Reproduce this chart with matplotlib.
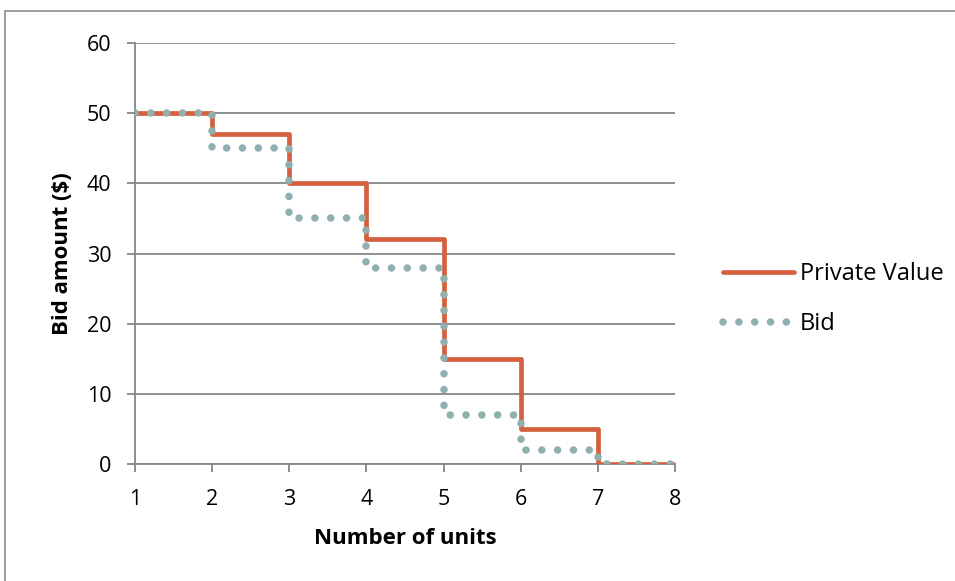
import numpy as np
import matplotlib as mpl
mpl.use('Agg')
import matplotlib.pyplot as plt
from matplotlib.patches import Rectangle

# units on the x axis and the value of each unit (last point closes the step)
units = [1, 2, 3, 4, 5, 6, 7, 8]
private_value = [50, 47, 40, 32, 15, 5, 0, 0]
bid = [50, 45, 35, 28, 7, 2, 0, 0]

plt.rcParams['font.family'] = ['Open Sans', 'DejaVu Sans']

W, H = 955, 581
fig = plt.figure(figsize=(W / 100, H / 100), dpi=100)
ax = fig.add_axes([135 / W, 1 - 464 / H, 540 / W, 421 / H])

grid_col = '#868686'
orange = '#D4603F'
teal = '#8FB0AE'

# chart frame
fig.patches.append(Rectangle((5 / W, -0.1), 1.2, 1 - 11 / H + 0.1,
                             transform=fig.transFigure, fill=False,
                             edgecolor='#8c8c8c', linewidth=1.2))

ax.plot(units, private_value, drawstyle='steps-post', color=orange,
        linewidth=3.4, solid_joinstyle='round', solid_capstyle='round',
        label='Private Value', zorder=3)
ax.plot(units, bid, drawstyle='steps-post', color=teal, linewidth=5.4,
        linestyle=(0, (0.01, 2.1)), dash_capstyle='round', label='Bid', zorder=4)

ax.set_xlim(1, 8)
ax.set_ylim(0, 60)
ax.set_xticks(units)
ax.set_yticks(range(0, 61, 10))
ax.yaxis.grid(True, color=grid_col, linewidth=1.3)
ax.set_axisbelow(True)

for s in ['top', 'right']:
    ax.spines[s].set_visible(False)
for s in ['left', 'bottom']:
    ax.spines[s].set_color(grid_col)
    ax.spines[s].set_linewidth(1.3)
ax.tick_params(axis='both', direction='out', length=6, width=1.3,
               color=grid_col, labelsize=15.5)
ax.tick_params(axis='x', pad=12)
ax.tick_params(axis='y', pad=11)

ax.set_xlabel('Number of units', fontsize=16, fontweight='bold', labelpad=13)
ax.set_ylabel('Bid amount ($)', fontsize=16, fontweight='bold', labelpad=10)

leg = ax.legend(loc='center left', bbox_to_anchor=(1.05, 0.392), frameon=False,
                fontsize=17, handlelength=3.0, handletextpad=0.25,
                labelspacing=1.1)

fig.savefig('out.png', dpi=100)
